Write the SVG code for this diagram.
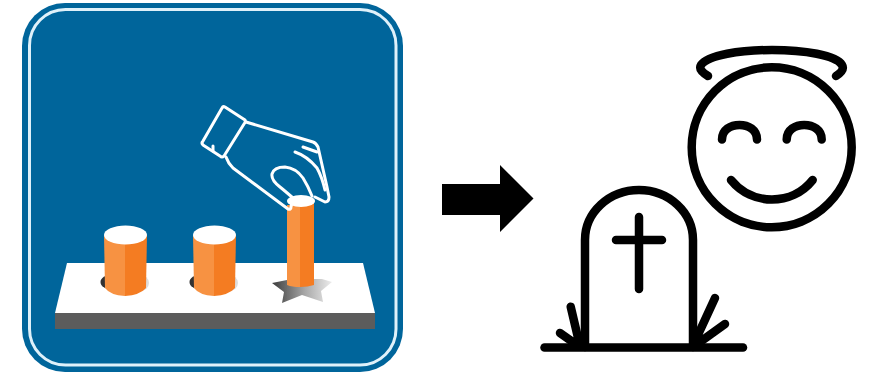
<svg xmlns="http://www.w3.org/2000/svg" width="869" height="377" viewBox="0 0 869 377">
<style>
.k{fill:none;stroke:#000;stroke-width:8.5;stroke-linecap:round;stroke-linejoin:round}
.h{fill:none;stroke:#fff;stroke-width:3;stroke-linecap:round;stroke-linejoin:round}
.l{fill:#f79243}.r{fill:#f47b20}
</style>
<defs>
<filter id="soft" x="-5%" y="-5%" width="110%" height="110%"><feGaussianBlur stdDeviation="0.7"/></filter>
<linearGradient id="star" x1="0" x2="1" y1="0" y2="0"><stop offset="0" stop-color="#3c3c3c"/><stop offset="0.55" stop-color="#a8a8a8"/><stop offset="1" stop-color="#ececec"/></linearGradient>
</defs>
<rect width="869" height="377" fill="#fff"/>
<g id="icon" filter="url(#soft)">
<rect x="22" y="3" width="381" height="369" rx="43" fill="#00659b"/>
<rect x="29.500" y="9.500" width="366.500" height="355.500" rx="36" fill="none" stroke="#dff1fa" stroke-width="3"/>
<path d="M67 263H363L375 313H55Z" fill="#fff"/>
<rect x="55" y="313" width="320" height="16" fill="#5b5b5b"/>
<ellipse cx="112" cy="282" rx="11.500" ry="7.500" fill="#333"/>
<ellipse cx="140" cy="283" rx="9" ry="8" fill="#ddd"/>
<ellipse cx="201" cy="282" rx="11.500" ry="7.500" fill="#333"/>
<ellipse cx="229" cy="283" rx="9" ry="8" fill="#ddd"/>
<path d="M272 283L292 279H322L332 282L321 291L323 302L302 295L282 303L284 292Z" fill="url(#star)"/>
<path class="l" d="M104 235H125V296Q110 295 105 288Z"/>
<path class="r" d="M125 235H147L146 288Q140 295 125 296Z"/>
<ellipse cx="125.500" cy="235" rx="21.500" ry="9.500" fill="#fff"/>
<path class="l" d="M193 235H214V296Q199 295 194 288Z"/>
<path class="r" d="M214 235H236L235 288Q229 295 214 296Z"/>
<ellipse cx="214.500" cy="235" rx="21.500" ry="9.500" fill="#fff"/>
<path class="l" d="M287 205H300V287Q292 287 287 285Z"/>
<path class="r" d="M300 203H314V285Q308 287 300 287Z"/>
<ellipse cx="301" cy="201" rx="14" ry="6" fill="#fff"/>
<path class="h" d="M225 107L245 120Q246 122 244 124L224 156Q222 158 220 156L203 145Q201 143 203 141L222 108Q223 106 225 107Z"/>
<path class="h" d="M213 146V151"/>
<path class="h" d="M246 122L313 142Q316 143 318 147L327 187L329 197Q329 202 325 202L315 197"/>
<path class="h" d="M226 157Q228 163 233 168L288 209Q291 210 291 207L293 198Q285 191 280 187Q271 180 272 174Q274 167 285 167Q296 168 303 178Q308 186 312 196"/>
<path class="h" d="M295 152Q307 156 317 168Q322 177 325 190"/>
<path class="h" d="M303 147L317 152"/>
</g>
<g id="connectors">
<path d="M442 184H500V165L533.500 198.500L500 232V215H442Z" fill="#000"/>
</g>
<g id="angel">
<path class="k" d="M708 76Q698 70 701 65C708 55 740 50 772 50C804 50 836 55 842 65Q845 70 836 76"/>
<circle class="k" cx="771.700" cy="147.300" r="80"/>
<path class="k" d="M722 139.500C722 120 757 120 757 139.500"/>
<path class="k" d="M786.700 139.500C786.700 120 821.700 120 821.700 139.500"/>
<path class="k" d="M731 180C752 206 792 206 812.700 180"/>
</g>
<g id="tombstone">
<path class="k" d="M585 347V240A54 50 0 0 1 693 240V347"/>
<path class="k" d="M544.500 347.500H743"/>
<path class="k" d="M639 217V289M616 240H662"/>
<path class="k" d="M570.700 306.700L579 342M560 333L577 345M715 298L697 337M725 324L700 342"/>
</g>
</svg>
